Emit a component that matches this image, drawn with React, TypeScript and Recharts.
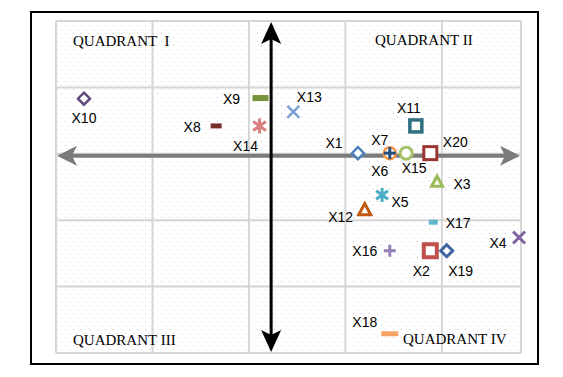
import React from 'react';
import { ScatterChart, Scatter, XAxis, YAxis, CartesianGrid, ReferenceLine, LabelList } from 'recharts';

// series names and positions (grid step = 1 unit)
const names = ['X1', 'X2', 'X3', 'X4', 'X5', 'X6', 'X7', 'X8', 'X9', 'X10', 'X11', 'X12', 'X13', 'X14', 'X15', 'X16', 'X17', 'X18', 'X19', 'X20'];
const xValues = [3.13, 3.88, 3.95, 4.8, 3.38, 3.46, 3.46, 1.66, 2.12, 0.29, 3.73, 3.2, 2.46, 2.11, 3.63, 3.46, 3.91, 3.46, 4.05, 3.88];
const yValues = [3.01, 1.54, 2.58, 1.74, 2.38, 3.01, 3.01, 3.42, 3.84, 3.83, 3.42, 2.16, 3.63, 3.42, 3.01, 1.54, 1.97, 0.29, 1.54, 3.01];

const xTicks = [0, 1, 2, 3, 4];
const yTicks = [0, 1, 2, 3, 4, 5];
const xMax = 4.82;
const yMax = 5;
const verticalArrowAt = 2.23;
const horizontalArrowAt = 2.97;

const quadrantLabels = ['QUADRANT  I', 'QUADRANT II', 'QUADRANT III', 'QUADRANT IV'];

type Kind = 'diamond' | 'square' | 'circle' | 'triangle' | 'dash' | 'x' | 'plus' | 'star';
interface MarkerStyle { kind: Kind; color: string; r?: number; sw?: number; w?: number; h?: number; dx: number; dy: number }

// marker look + where the name sits relative to the marker
const markerStyles: Record<string, MarkerStyle> = {
  X1: { kind: 'diamond', color: '#4f81bd', r: 6, sw: 2.5, dx: -24, dy: -10 },
  X2: { kind: 'square', color: '#c0504d', r: 6.5, sw: 4, dx: -9, dy: 20 },
  X3: { kind: 'triangle', color: '#9bbb59', r: 5.5, sw: 3, dx: 25, dy: 2 },
  X4: { kind: 'x', color: '#8064a2', r: 6, sw: 3, dx: -21, dy: 6 },
  X5: { kind: 'star', color: '#4bacc6', r: 7, sw: 3, dx: 18, dy: 7 },
  X6: { kind: 'circle', color: '#f79646', r: 6, sw: 2.5, dx: -10, dy: 18 },
  X7: { kind: 'plus', color: '#254e7c', r: 6, sw: 3, dx: -10, dy: -13 },
  X8: { kind: 'dash', color: '#772c2a', w: 11, h: 5, dx: -24, dy: 1 },
  X9: { kind: 'dash', color: '#77933c', w: 16, h: 6, dx: -29, dy: 1 },
  X10: { kind: 'diamond', color: '#5f4a7a', r: 6, sw: 2.5, dx: 0, dy: 19 },
  X11: { kind: 'square', color: '#2e6f80', r: 6, sw: 3.5, dx: -7, dy: -18 },
  X12: { kind: 'triangle', color: '#c0580f', r: 6, sw: 3, dx: -24, dy: 7 },
  X13: { kind: 'x', color: '#7aa1d6', r: 6, sw: 2.5, dx: 16, dy: -15 },
  X14: { kind: 'star', color: '#d98080', r: 7.5, sw: 3, dx: -14, dy: 20 },
  X15: { kind: 'circle', color: '#a5c26b', r: 6, sw: 3, dx: 8, dy: 15 },
  X16: { kind: 'plus', color: '#9580b8', r: 6, sw: 3, dx: -25, dy: 0 },
  X17: { kind: 'dash', color: '#5fb7cf', w: 9, h: 5, dx: 25, dy: 1 },
  X18: { kind: 'dash', color: '#f7a266', w: 17, h: 5, dx: -25, dy: -12 },
  X19: { kind: 'diamond', color: '#3d66a0', r: 6, sw: 3, dx: 14, dy: 20 },
  X20: { kind: 'square', color: '#9b3533', r: 6.5, sw: 3, dx: 25, dy: -11 },
};

function MarkerShape({ cx, cy, st }: { cx: number; cy: number; st: MarkerStyle }) {
  const r = st.r ?? 6;
  const sw = st.sw ?? 3;
  const c = st.color;
  switch (st.kind) {
    case 'diamond':
      return <polygon points={`${cx},${cy - r} ${cx + r},${cy} ${cx},${cy + r} ${cx - r},${cy}`} fill="#fff" stroke={c} strokeWidth={sw} />;
    case 'square':
      return <rect x={cx - r} y={cy - r} width={2 * r} height={2 * r} fill="#fff" stroke={c} strokeWidth={sw} />;
    case 'circle':
      return <circle cx={cx} cy={cy} r={r} fill="#fff" stroke={c} strokeWidth={sw} />;
    case 'triangle':
      return <polygon points={`${cx},${cy - r} ${cx + r},${cy + r * 0.85} ${cx - r},${cy + r * 0.85}`} fill="#fff" stroke={c} strokeWidth={sw} />;
    case 'dash': {
      const w = st.w ?? 10;
      const h = st.h ?? 5;
      return <rect x={cx - w / 2} y={cy - h / 2} width={w} height={h} fill={c} />;
    }
    case 'x':
      return (
        <g stroke={c} strokeWidth={sw}>
          <line x1={cx - r} y1={cy - r} x2={cx + r} y2={cy + r} />
          <line x1={cx - r} y1={cy + r} x2={cx + r} y2={cy - r} />
        </g>
      );
    case 'plus':
      return (
        <g stroke={c} strokeWidth={sw}>
          <line x1={cx - r} y1={cy} x2={cx + r} y2={cy} />
          <line x1={cx} y1={cy - r} x2={cx} y2={cy + r} />
        </g>
      );
    case 'star':
      return (
        <g stroke={c} strokeWidth={sw}>
          <line x1={cx - r * 0.85} y1={cy - r * 0.6} x2={cx + r * 0.85} y2={cy + r * 0.6} />
          <line x1={cx - r * 0.85} y1={cy + r * 0.6} x2={cx + r * 0.85} y2={cy - r * 0.6} />
          <line x1={cx} y1={cy - r} x2={cx} y2={cy + r} />
        </g>
      );
    default:
      return null;
  }
}

// line with a "stealth" arrow head on both ends
function DoubleArrow(props: any) {
  const { x1, y1, x2, y2, color, width, len, half, notch } = props;
  const inset = 1;
  const d = Math.hypot(x2 - x1, y2 - y1) || 1;
  const ux = (x2 - x1) / d;
  const uy = (y2 - y1) / d;
  const px = -uy;
  const py = ux;
  const ax = x1 + ux * inset, ay = y1 + uy * inset;
  const bx = x2 - ux * inset, by = y2 - uy * inset;
  const head = (tx: number, ty: number, sx: number, sy: number) =>
    `${tx},${ty} ${tx - len * sx + half * px},${ty - len * sy + half * py} ${tx - (len - notch) * sx},${ty - (len - notch) * sy} ${tx - len * sx - half * px},${ty - len * sy - half * py}`;
  return (
    <g>
      <line
        x1={ax + (len - notch) * ux}
        y1={ay + (len - notch) * uy}
        x2={bx - (len - notch) * ux}
        y2={by - (len - notch) * uy}
        stroke={color}
        strokeWidth={width}
      />
      <polygon points={head(ax, ay, -ux, -uy)} fill={color} />
      <polygon points={head(bx, by, ux, uy)} fill={color} />
    </g>
  );
}

const labelFont = '"Liberation Sans", Arial, sans-serif';
const quadFont = '"Liberation Serif", "Times New Roman", serif';

export default function App() {
  const series = names.map((name, i) => ({ name, data: [{ x: xValues[i], y: yValues[i], name }] }));

  return (
    <div style={{ position: 'absolute', left: 0, top: 0, width: 563, height: 377, background: '#fff' }}>
      <svg width={0} height={0} style={{ position: 'absolute' }}>
        <defs>
          <pattern id="dots" width={8} height={8} patternUnits="userSpaceOnUse">
            <rect x={1} y={1} width={1} height={1} fill="#c9c9c9" />
            <rect x={5} y={5} width={1} height={1} fill="#d6d6d6" />
          </pattern>
        </defs>
      </svg>
      <div
        style={{
          position: 'absolute',
          left: 30,
          top: 11,
          width: 509,
          height: 354,
          boxSizing: 'border-box',
          border: '2px solid #000',
        }}
      />
      <div style={{ position: 'absolute', left: 0, top: 0 }}>
        <ScatterChart width={563} height={377} margin={{ top: 21, right: 42, bottom: 24, left: 56 }}>
          <CartesianGrid stroke="#d6d6d6" strokeWidth={2} fill="url(#dots)" fillOpacity={1} />
          <XAxis type="number" dataKey="x" domain={[0, xMax]} ticks={xTicks} hide />
          <YAxis type="number" dataKey="y" domain={[0, yMax]} ticks={yTicks} hide />
          <ReferenceLine
            y={horizontalArrowAt}
            shape={(p: any) => <DoubleArrow {...p} color="#7b7b7b" width={4} len={20} half={10} notch={5} />}
          />
          <ReferenceLine
            x={verticalArrowAt}
            shape={(p: any) => <DoubleArrow {...p} color="#000" width={3} len={22} half={10} notch={5} />}
          />
          {series.map((s) => {
            const st = markerStyles[s.name];
            return (
              <Scatter
                key={s.name}
                name={s.name}
                data={s.data}
                isAnimationActive={false}
                shape={(p: any) => <MarkerShape cx={p.cx} cy={p.cy} st={st} />}
              >
                <LabelList
                  dataKey="name"
                  content={(p: any) => {
                    const cx = Number(p.x) + Number(p.width) / 2;
                    const cy = Number(p.y) + Number(p.height) / 2;
                    return (
                      <text
                        x={cx + st.dx}
                        y={cy + st.dy}
                        textAnchor="middle"
                        dominantBaseline="central"
                        fontFamily={labelFont}
                        fontSize={14}
                        fill="#000"
                      >
                        {p.value}
                      </text>
                    );
                  }}
                />
              </Scatter>
            );
          })}
        </ScatterChart>
      </div>
      <svg width={563} height={377} style={{ position: 'absolute', left: 0, top: 0, pointerEvents: 'none' }}>
        <g fontFamily={quadFont} fontSize={15} fill="#000" style={{ whiteSpace: 'pre' }}>
          <text x={73} y={45.5} xmlSpace="preserve">{quadrantLabels[0]}</text>
          <text x={375} y={45}>{quadrantLabels[1]}</text>
          <text x={73} y={345}>{quadrantLabels[2]}</text>
          <text x={403} y={344}>{quadrantLabels[3]}</text>
        </g>
      </svg>
    </div>
  );
}
